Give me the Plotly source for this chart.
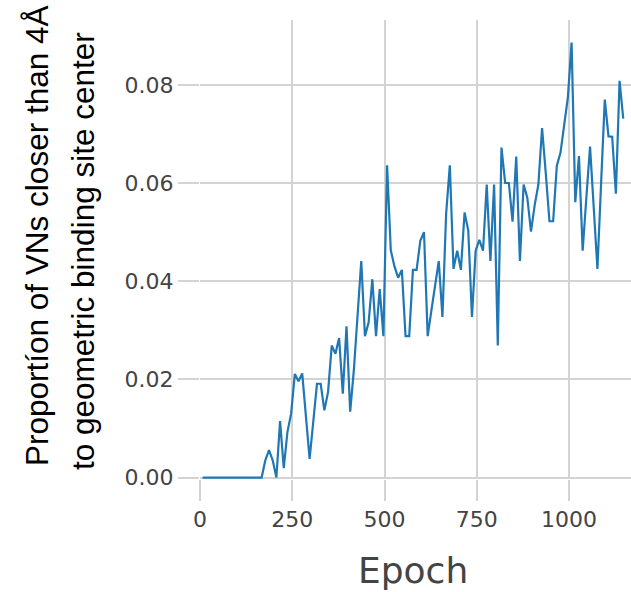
import plotly.graph_objects as go

# Epochs (every 10 epochs) and proportion values
epochs = list(range(7, 1150, 10))
proportion = [
    0, 0, 0, 0, 0, 0, 0, 0, 0, 0, 0, 0, 0, 0, 0, 0, 0,
    0.0035, 0.0056, 0.0035, 0.0, 0.0115, 0.0019, 0.0093, 0.0130, 0.0211,
    0.0196, 0.0212, 0.0124, 0.0038, 0.0114, 0.0191, 0.0191, 0.0137, 0.0174,
    0.0269, 0.0252, 0.0284, 0.0171, 0.0308, 0.0134, 0.0220, 0.0330, 0.0441,
    0.0288, 0.0316, 0.0404, 0.0288, 0.0384, 0.0288, 0.0636, 0.0463, 0.0430,
    0.0407, 0.0423, 0.0288, 0.0288, 0.0423, 0.0423, 0.0482, 0.0500, 0.0288,
    0.0340, 0.0390, 0.0441, 0.0327, 0.0537, 0.0636, 0.0425, 0.0462, 0.0423,
    0.0540, 0.0503, 0.0327, 0.0462, 0.0484, 0.0462, 0.0597, 0.0441, 0.0597,
    0.0269, 0.0672, 0.0600, 0.0600, 0.0521, 0.0654, 0.0441, 0.0597, 0.0570,
    0.0501, 0.0555, 0.0597, 0.0712, 0.0620, 0.0522, 0.0522, 0.0635, 0.0662,
    0.0720, 0.0775, 0.0886, 0.0561, 0.0655, 0.0462, 0.0570, 0.0674, 0.0550,
    0.0425, 0.0600, 0.0770, 0.0695, 0.0694, 0.0578, 0.0808, 0.0731,
]
x_ticks = [0, 250, 500, 750, 1000]
y_ticks = [0.00, 0.02, 0.04, 0.06, 0.08]
y_tick_labels = ["0.00", "0.02", "0.04", "0.06", "0.08"]
y_title_lines = ["Proportíon of VNs closer than 4Å", "to geometric binding site center"]
x_title = "Epoch"

GRID = "#d3d3d3"
L, T, W, H = 200, 20, 431, 459  # plot area in pixels

fig = go.Figure()
fig.add_trace(go.Scatter(
    x=epochs, y=proportion, mode="lines",
    line=dict(color="#1f77b4", width=2.2),
    showlegend=False,
))

fig.update_layout(
    width=631, height=592,
    margin=dict(l=L, r=631 - L - W, t=T, b=592 - T - H, autoexpand=False),
    plot_bgcolor="white", paper_bgcolor="white",
    font=dict(family="DejaVu Sans", color="#444"),
    xaxis=dict(
        range=[0, 1168], tickvals=x_ticks, automargin=False,
        showgrid=True, gridcolor=GRID, gridwidth=2,
        zeroline=False, showline=False,
        ticks="outside", ticklen=21, tickwidth=2, tickcolor=GRID,
        tickfont=dict(family="DejaVu Sans", size=22, color="#444"),
    ),
    yaxis=dict(
        range=[-0.0003, 0.0932], tickvals=y_ticks, ticktext=y_tick_labels,
        automargin=False,
        showgrid=True, gridcolor=GRID, gridwidth=2,
        zeroline=False, showline=False,
        ticks="outside", ticklen=21, tickwidth=2, tickcolor=GRID,
        tickfont=dict(family="DejaVu Sans", size=22, color="#444"),
    ),
)

def px_x(p):
    return (p - L) / W

def px_y(p):
    return (T + H - p) / H

fig.add_annotation(
    text=y_title_lines[0], textangle=-90, showarrow=False,
    xref="paper", yref="paper", x=px_x(37), y=px_y(236),
    xanchor="center", yanchor="middle",
    font=dict(family="Liberation Sans", size=31.5, color="black"),
)
fig.add_annotation(
    text=y_title_lines[1], textangle=-90, showarrow=False,
    xref="paper", yref="paper", x=px_x(83), y=px_y(251),
    xanchor="center", yanchor="middle",
    font=dict(family="Liberation Sans", size=31.5, color="black"),
)
fig.add_annotation(
    text=x_title, showarrow=False,
    xref="paper", yref="paper", x=px_x(412.5), y=px_y(570.5),
    xanchor="center", yanchor="middle",
    font=dict(family="DejaVu Sans", size=36, color="#444"),
)

fig.write_html(
    "out.html",
    config={"displayModeBar": False},
    post_script="document.body.style.margin='0';document.body.style.overflow='hidden';",
)
